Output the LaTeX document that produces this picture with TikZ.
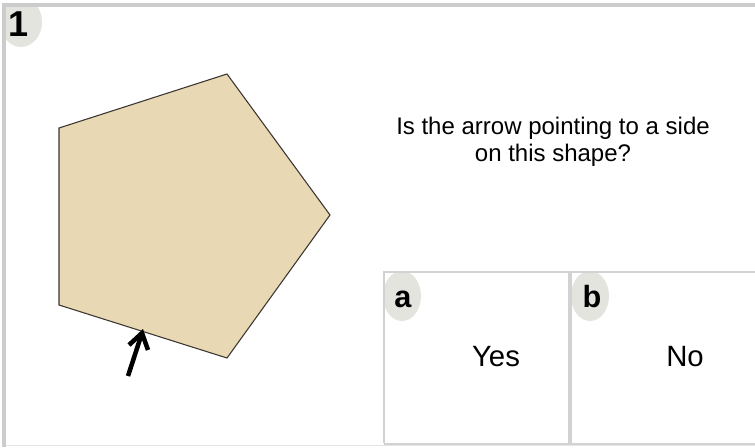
\documentclass[tikz,border=0pt]{standalone}
\usepackage{fontspec}
\setmainfont{Liberation Sans}
\definecolor{framegray}{HTML}{CCCCCC}
\definecolor{boxgray}{HTML}{D2D2D2}
\definecolor{tagbg}{HTML}{E4E4DE}
\definecolor{shapefill}{HTML}{E8D9B4}
\definecolor{shapeedge}{HTML}{3A3530}
\tikzset{
  qtext/.style={font=\fontsize{18}{20.25}\selectfont, align=center, inner sep=0pt},
  anstext/.style={font=\fontsize{22}{26}\selectfont, inner sep=0pt, anchor=base},
  tagtext/.style={font=\bfseries\fontsize{23}{27}\selectfont, inner sep=0pt, anchor=base},
  numtext/.style={font=\bfseries\fontsize{27}{31}\selectfont, inner sep=0pt, anchor=base},
  ansbox/.style={draw=boxgray, line width=1.5pt},
  tagoval/.style={fill=tagbg},
}
\begin{document}
\begin{tikzpicture}[x=0.75pt, y=-0.75pt]
\useasboundingbox (0,0) rectangle (755,447);
\fill[white] (0,0) rectangle (755,447);
% number tag
\begin{scope}
  \clip (4,5) rectangle (200,200);
  \fill[tagoval] (21,22) ellipse [x radius=21, y radius=25];
\end{scope}
\node[numtext] (num) at (18.5,36) {1};
% outer frame
\draw[draw=black!10, line width=1.2pt] (4,445.5) -- (755,445.5);
\draw[draw=framegray, line width=3pt] (4,447) -- (4,5) -- (755,5);
% pentagon
\coordinate (p1) at (59,128);
\coordinate (p2) at (227,74);
\coordinate (p3) at (330,215);
\coordinate (p4) at (227,358);
\coordinate (p5) at (59,305);
\filldraw[fill=shapefill, draw=shapeedge, line width=0.8pt, line join=miter]
  (p1) -- (p2) -- (p3) -- (p4) -- (p5) -- cycle;
% arrow
\coordinate (atip) at (142,333);
\coordinate (abase) at (128,376);
\coordinate (aleft) at (129,345);
\coordinate (aright) at (148,350);
\draw[line width=3.4pt] (abase) -- (atip);
\draw[line width=3.4pt, line join=miter] (aleft) -- (atip) -- (aright);
% question
\node[qtext, anchor=base] (q1) at (553,134) {Is the arrow pointing to a side};
\node[qtext, anchor=base] (q2) at (553,161) {on this shape?};
% answer boxes
\begin{scope}
  \clip (384,272) rectangle (569,443);
  \fill[tagoval] (402,296) ellipse [x radius=19, y radius=25];
\end{scope}
\begin{scope}
  \clip (571,272) rectangle (755,443);
  \fill[tagoval] (590,296) ellipse [x radius=19, y radius=25];
\end{scope}
\draw[ansbox] (384,443) -- (384,272) -- (569,272) -- (569,443);
\draw[ansbox] (571,443) -- (571,272) -- (756,272);
\draw[draw=boxgray, line width=2.2pt] (384,444) -- (755,444);
\node[tagtext] (ta) at (403,307) {a};
\node[tagtext] (tb) at (592,307) {b};
\node[anstext] (yes) at (496,366) {Yes};
\node[anstext] (no) at (685,366) {No};
\end{tikzpicture}
\end{document}
